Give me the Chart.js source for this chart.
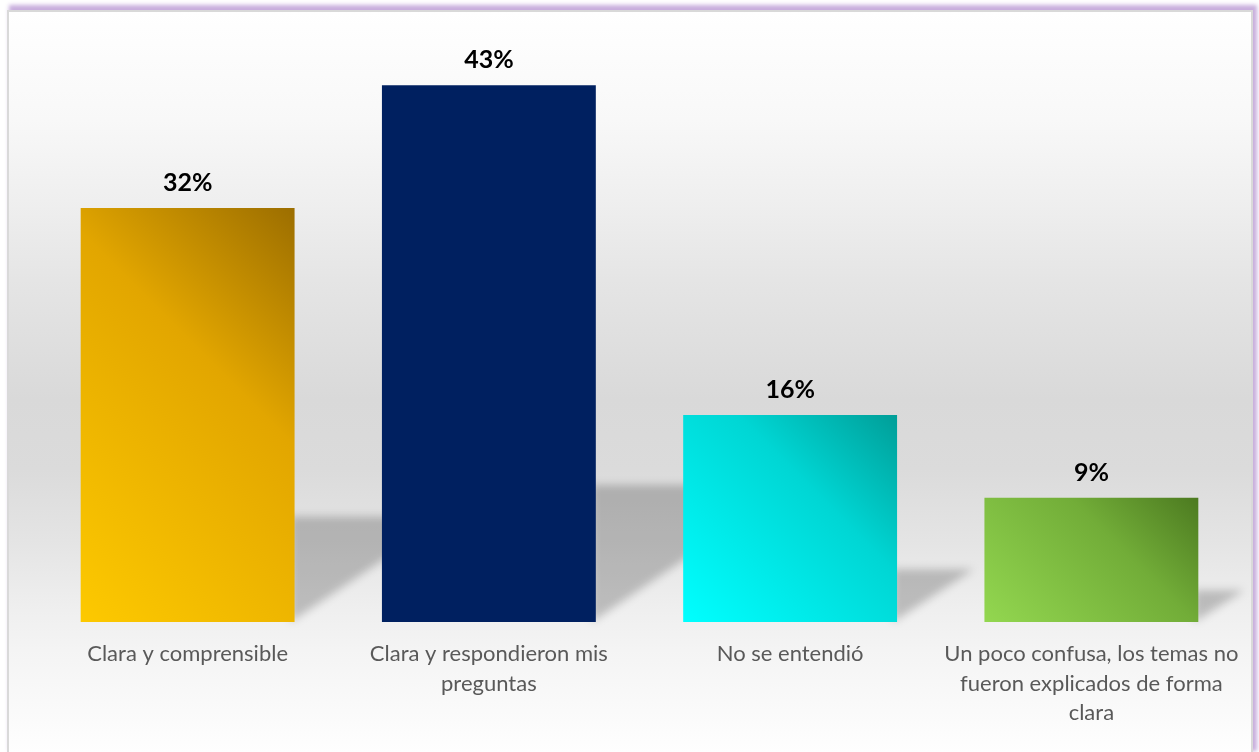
<!DOCTYPE html>
<html>
<head>
<meta charset="utf-8">
<script src="https://cdn.jsdelivr.net/npm/chart.js@4/dist/chart.umd.min.js"></script>
<style>
  html, body { margin: 0; padding: 0; background: #fff; overflow: hidden; }
  #frame {
    position: absolute; left: 7px; top: 10px;
    width: 1246px; height: 744px; box-sizing: border-box;
    border: 2px solid #d9d9d9;
    box-shadow: 3px -4px 4px 1px rgba(190, 160, 215, 0.85);
    background: linear-gradient(to bottom, #ffffff 0px, #f8f8f8 108px, #efefef 188px, #e5e5e5 268px,
      #d9d9d9 388px, #dbdbdb 458px, #e4e4e4 528px, #efefef 598px, #f4f4f4 638px, #fefefe 740px);
  }
  #chart-wrap { position: absolute; left: 0; top: 0; width: 1242px; height: 740px; }
</style>
</head>
<body>
<div id="frame"><div id="chart-wrap"><canvas id="chart"></canvas></div></div>
<script>
// Data
var categories = [
    ["Clara y comprensible"],
    ["Clara y respondieron mis", "preguntas"],
    ["No se entendió"],
    ["Un poco confusa, los temas no", "fueron explicados de forma", "clara"]
];
var values = [32, 41.5, 16, 9.6];          // bar heights as drawn
var valueLabels = ["32%", "43%", "16%", "9%"];  // printed labels

// colours: [bottom-left, middle, top-right] of each bar
var barColors = [
    ["#fdc900", "#e2a600", "#9c6e00"],
    ["#002060", "#002060", "#002060"],
    ["#00ffff", "#00d6d4", "#009e98"],
    ["#93d750", "#72ad38", "#4c7a20"]
];
var BAR_PCT = 0.71;

function barFill(c)
{
    // 45 degree gradient per bar, bright at bottom-left, dark at top-right.
    var chart = c.chart;
    var i = c.dataIndex;
    var xs = chart.scales.x, ys = chart.scales.y;
    if (!chart.chartArea || !xs || !ys) return barColors[i][0];
    var cx = xs.getPixelForValue(i);
    var half = xs.width / categories.length * BAR_PCT / 2;
    var top = ys.getPixelForValue(values[i]);
    var base = ys.getPixelForValue(0);
    var d = (2 * half + (base - top)) / 2;
    var g = chart.ctx.createLinearGradient(cx - half, base, cx - half + d, base - d);
    g.addColorStop(0, barColors[i][0]);
    g.addColorStop(0.62, barColors[i][1]);
    g.addColorStop(1, barColors[i][2]);
    return g;
}

var barStyle = {
    id: "barStyle",
    beforeDatasetsDraw: function(chart) {
        // floor shadows behind each bar
        var ctx = chart.ctx;
        var meta = chart.getDatasetMeta(0);
        ctx.save();
        ctx.filter = "blur(4px)";
        ctx.fillStyle = "rgba(0,0,0,0.21)";
        for (var i = 0; i < meta.data.length; ++i) {
            var bar = meta.data[i];
            var right = bar.x + bar.width / 2;
            var s = (bar.base - bar.y) * 0.255;
            ctx.beginPath();
            ctx.moveTo(right - 4, bar.base);
            ctx.lineTo(right - 4, bar.base - s);
            ctx.lineTo(right + s * 1.45, bar.base - s);
            ctx.closePath();
            ctx.fill();
        }
        ctx.restore();
    },
    afterDatasetsDraw: function(chart) {
        var ctx = chart.ctx;
        var meta = chart.getDatasetMeta(0);
        ctx.save();
        ctx.font = "bold 25px Lato";
        ctx.fillStyle = "#000000";
        ctx.textAlign = "center";
        ctx.textBaseline = "alphabetic";
        for (var i = 0; i < meta.data.length; ++i) {
            var bar = meta.data[i];
            ctx.fillText(valueLabels[i], bar.x, bar.y - 17);
        }
        ctx.restore();
    }
};

var chart = new Chart(document.getElementById("chart").getContext("2d"), {
    type: "bar",
    data: {
        labels: categories,
        datasets: [{
            data: values,
            backgroundColor: barFill,
            borderWidth: 0,
            barPercentage: BAR_PCT,
            categoryPercentage: 1.0
        }]
    },
    options: {
        responsive: true,
        maintainAspectRatio: false,
        animation: false,
        layout: { padding: { left: 28, right: 9, top: 15, bottom: 10 } },
        plugins: { legend: { display: false }, tooltip: { enabled: false } },
        scales: {
            x: {
                grid: { display: false, drawTicks: false },
                border: { display: false },
                ticks: {
                    color: "#595959",
                    font: { family: "Lato", size: 22, lineHeight: 1.35 },
                    padding: 17,
                    maxRotation: 0,
                    autoSkip: false
                },
                afterFit: function(scale) {
                    scale.height = 120;
                    // wide last label must not shrink the plot area
                    scale.paddingLeft = 0;
                    scale.paddingRight = 0;
                }
            },
            y: {
                display: false,
                min: 0,
                max: 46
            }
        }
    },
    plugins: [barStyle]
});
</script>
</body>
</html>
